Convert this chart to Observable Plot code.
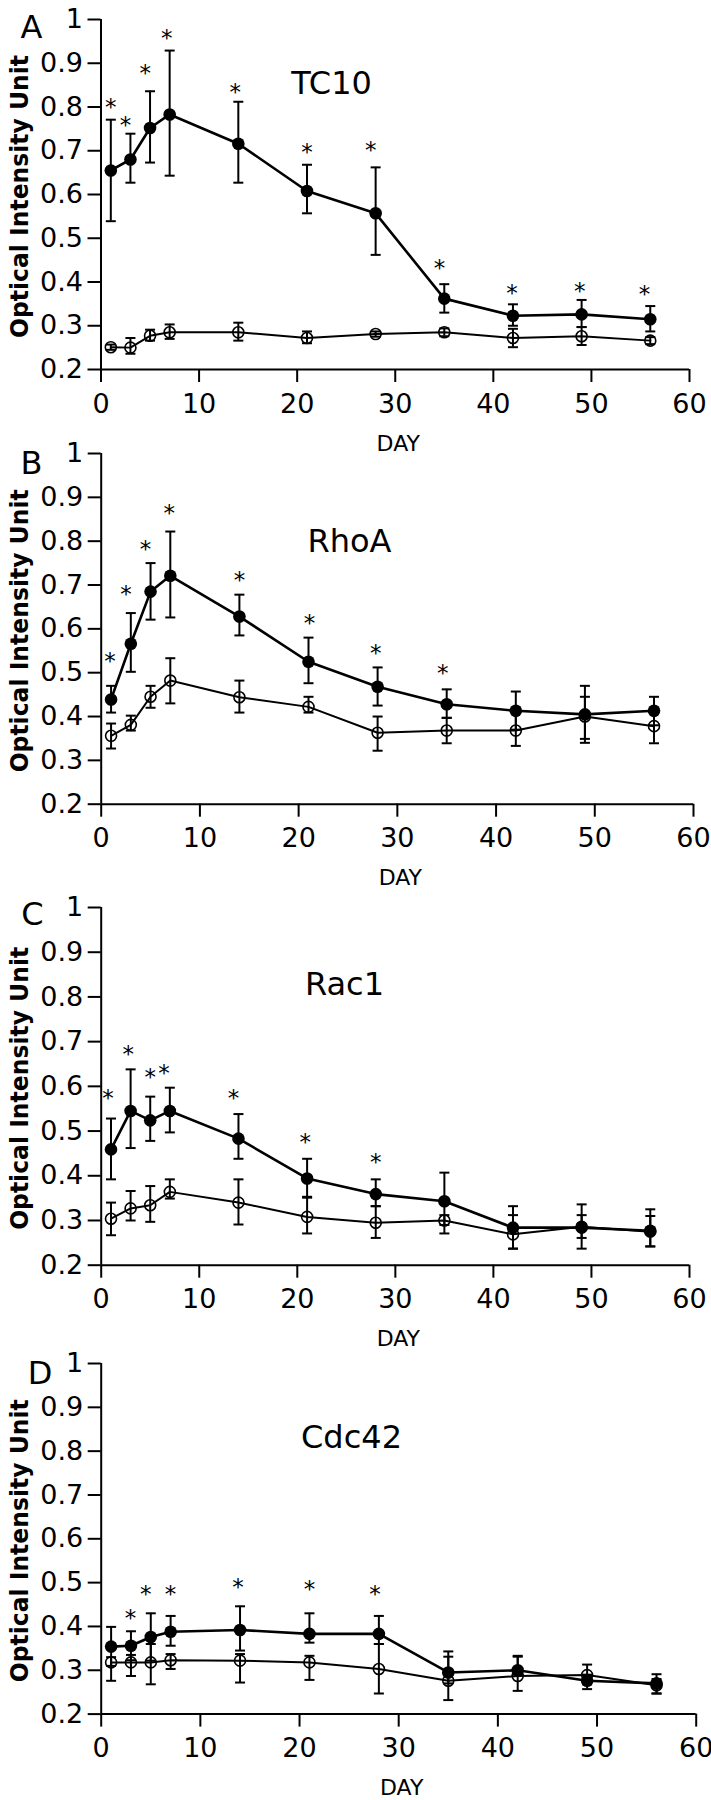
<!DOCTYPE html>
<html><head><meta charset="utf-8">
<script src="https://cdn.jsdelivr.net/npm/d3@7"></script>
<script src="https://cdn.jsdelivr.net/npm/@observablehq/plot@0.6"></script>
<style>
html,body{margin:0;padding:0;background:#fff;overflow:hidden;}
#root{position:relative;width:711px;height:1800px;}
</style></head><body><div id="root"></div>
<script>
// ---- data ----
const days = [1, 3, 5, 7, 14, 21, 28, 35, 42, 49, 56];
const xTicks = [0, 10, 20, 30, 40, 50, 60];
const yTicks = [0.2, 0.3, 0.4, 0.5, 0.6, 0.7, 0.8, 0.9, 1];
const panelLetters = ["A", "B", "C", "D"];
const proteinNames = ["TC10", "RhoA", "Rac1", "Cdc42"];
const xLabel = "DAY";
const yLabel = "Optical Intensity Unit";

// TC10
const tc10Mean = [0.655, 0.680, 0.752, 0.783, 0.716, 0.608, 0.557, 0.362, 0.323, 0.326, 0.315];
const tc10Hi   = [0.771, 0.739, 0.836, 0.929, 0.812, 0.668, 0.662, 0.395, 0.349, 0.359, 0.345];
const tc10Lo   = [0.539, 0.627, 0.673, 0.643, 0.627, 0.557, 0.462, 0.330, 0.300, 0.297, 0.287];
const tc10Ctrl   = [0.251, 0.250, 0.277, 0.285, 0.285, 0.272, 0.281, 0.285, 0.272, 0.276, 0.266];
const tc10CtrlHi = [0.257, 0.272, 0.291, 0.303, 0.307, 0.287, 0.287, 0.294, 0.293, 0.297, 0.274];
const tc10CtrlLo = [0.245, 0.236, 0.266, 0.270, 0.266, 0.260, 0.275, 0.276, 0.251, 0.256, 0.258];
const tc10StarDay = [1.0, 2.5, 4.5, 6.7, 13.7, 21.0, 27.5, 34.5, 41.9, 48.8, 55.4];
const tc10StarVal = [0.811, 0.769, 0.888, 0.968, 0.845, 0.707, 0.712, 0.442, 0.385, 0.390, 0.383];

// RhoA
const rhoaMean = [0.439, 0.566, 0.685, 0.721, 0.628, 0.525, 0.468, 0.428, 0.413, 0.405, 0.413];
const rhoaHi   = [0.470, 0.636, 0.750, 0.822, 0.678, 0.580, 0.512, 0.462, 0.457, 0.470, 0.445];
const rhoaLo   = [0.409, 0.502, 0.621, 0.626, 0.585, 0.476, 0.425, 0.397, 0.370, 0.340, 0.380];
const rhoaCtrl   = [0.356, 0.381, 0.445, 0.482, 0.444, 0.422, 0.363, 0.368, 0.368, 0.400, 0.378];
const rhoaCtrlHi = [0.384, 0.402, 0.470, 0.533, 0.482, 0.445, 0.400, 0.397, 0.413, 0.445, 0.413];
const rhoaCtrlLo = [0.327, 0.368, 0.420, 0.430, 0.409, 0.409, 0.322, 0.339, 0.333, 0.349, 0.339];
const rhoaStarDay = [0.9, 2.5, 4.5, 6.9, 14.0, 21.1, 27.8, 34.6];
const rhoaStarVal = [0.537, 0.689, 0.792, 0.874, 0.721, 0.624, 0.556, 0.510];

// Rac1
const rac1Mean = [0.459, 0.545, 0.524, 0.545, 0.483, 0.394, 0.359, 0.343, 0.284, 0.284, 0.277];
const rac1Hi   = [0.528, 0.638, 0.577, 0.597, 0.538, 0.438, 0.392, 0.407, 0.332, 0.336, 0.325];
const rac1Lo   = [0.392, 0.462, 0.478, 0.497, 0.438, 0.353, 0.332, 0.290, 0.237, 0.237, 0.242];
const rac1Ctrl   = [0.304, 0.327, 0.334, 0.364, 0.340, 0.308, 0.295, 0.300, 0.269, 0.286, 0.275];
const rac1CtrlHi = [0.340, 0.366, 0.377, 0.392, 0.392, 0.351, 0.332, 0.312, 0.312, 0.312, 0.310];
const rac1CtrlLo = [0.267, 0.300, 0.297, 0.349, 0.291, 0.271, 0.261, 0.271, 0.237, 0.261, 0.242];
const rac1StarDay = [0.7, 2.75, 5.0, 6.4, 13.5, 20.8, 28.0];
const rac1StarVal = [0.583, 0.682, 0.630, 0.640, 0.583, 0.486, 0.441];

// Cdc42
const cdc42Mean = [0.354, 0.356, 0.376, 0.388, 0.392, 0.383, 0.383, 0.295, 0.300, 0.276, 0.270];
const cdc42Hi   = [0.399, 0.389, 0.430, 0.424, 0.446, 0.430, 0.424, 0.343, 0.333, 0.290, 0.291];
const cdc42Lo   = [0.310, 0.323, 0.322, 0.356, 0.345, 0.363, 0.360, 0.270, 0.290, 0.257, 0.247];
const cdc42Ctrl   = [0.318, 0.318, 0.318, 0.323, 0.322, 0.318, 0.303, 0.276, 0.287, 0.289, 0.266];
const cdc42CtrlHi = [0.330, 0.335, 0.360, 0.337, 0.337, 0.333, 0.360, 0.331, 0.331, 0.313, 0.280];
const cdc42CtrlLo = [0.276, 0.287, 0.268, 0.303, 0.272, 0.278, 0.247, 0.232, 0.253, 0.268, 0.247];
const cdc42StarDay = [2.95, 4.5, 7.0, 13.8, 21.0, 27.6];
const cdc42StarVal = [0.430, 0.485, 0.485, 0.500, 0.495, 0.485];

// ---- layout (pixels) ----
const layout = [
  {yTop: 19,     yBot: 369,    x0: 100.5, x60: 689,   letter: [31, 27],     title: [331, 83]},
  {yTop: 453.3,  yBot: 804,    x0: 100.7, x60: 693,   letter: [31, 464],    title: [349, 541.7]},
  {yTop: 907.3,  yBot: 1265,   x0: 100.7, x60: 689,   letter: [32, 915],    title: [344, 984.3]},
  {yTop: 1362.7, yBot: 1713.3, x0: 100.7, x60: 695.7, letter: [39.5, 1373], title: [351, 1436.7]}
];

const series = [
  [tc10Mean, tc10Lo, tc10Hi, tc10Ctrl, tc10CtrlLo, tc10CtrlHi, tc10StarDay, tc10StarVal],
  [rhoaMean, rhoaLo, rhoaHi, rhoaCtrl, rhoaCtrlLo, rhoaCtrlHi, rhoaStarDay, rhoaStarVal],
  [rac1Mean, rac1Lo, rac1Hi, rac1Ctrl, rac1CtrlLo, rac1CtrlHi, rac1StarDay, rac1StarVal],
  [cdc42Mean, cdc42Lo, cdc42Hi, cdc42Ctrl, cdc42CtrlLo, cdc42CtrlHi, cdc42StarDay, cdc42StarVal]
];

const capSymbol = {
  draw(ctx, size) {
    const w = Math.sqrt(size / Math.PI);
    ctx.moveTo(-w, 0);
    ctx.lineTo(w, 0);
  }
};

const FONT = "'DejaVu Sans', Verdana, sans-serif";
const root = document.getElementById("root");

function rows(mean, lo, hi) {
  return days.map((d, i) => ({day: d, mean: mean[i], lo: lo[i], hi: hi[i]}));
}

function errMarks(data) {
  return [
    Plot.ruleX(data, {x: "day", y1: "lo", y2: "hi", stroke: "black", strokeWidth: 2}),
    Plot.dot(data, {x: "day", y: "hi", symbol: capSymbol, r: 5, stroke: "black", fill: "none", strokeWidth: 2}),
    Plot.dot(data, {x: "day", y: "lo", symbol: capSymbol, r: 5, stroke: "black", fill: "none", strokeWidth: 2})
  ];
}

layout.forEach((p, k) => {
  const [mean, lo, hi, ctrl, ctrlLo, ctrlHi, starDay, starVal] = series[k];
  const T = rows(mean, lo, hi);
  const C = rows(ctrl, ctrlLo, ctrlHi);
  const S = starDay.map((d, i) => ({day: d, v: starVal[i]}));
  const top = Math.max(0, p.yTop - 45);
  const marginTop = p.yTop - top;
  const height = Math.round(marginTop + (p.yBot - p.yTop) + 86);
  const mb = height - marginTop - (p.yBot - p.yTop);

  const svg = Plot.plot({
    width: 711,
    height,
    marginTop,
    marginBottom: mb,
    marginLeft: p.x0,
    marginRight: 711 - p.x60,
    style: {background: "transparent", overflow: "visible", fontFamily: FONT, color: "black"},
    x: {domain: [0, 60]},
    y: {domain: [0.2, 1]},
    marks: [
      Plot.axisY({ticks: yTicks, tickSize: 13, tickPadding: 5, fontSize: 27, strokeWidth: 2,
        tickFormat: d => d === 1 ? "1" : d.toFixed(1), label: null}),
      Plot.axisX({ticks: xTicks, tickSize: 13, tickPadding: 11, fontSize: 27, strokeWidth: 2,
        tickFormat: d => String(d), label: null}),
      Plot.ruleX([0], {y1: 0.2, y2: 1, stroke: "black", strokeWidth: 2}),
      Plot.ruleY([0.2], {x1: 0, x2: 60, stroke: "black", strokeWidth: 2}),
      // control (open circles)
      Plot.line(C, {x: "day", y: "mean", stroke: "black", strokeWidth: 2}),
      ...errMarks(C),
      Plot.dot(C, {x: "day", y: "mean", r: 5.5, stroke: "black", fill: "none", strokeWidth: 1.6}),
      // treated (filled circles)
      Plot.line(T, {x: "day", y: "mean", stroke: "black", strokeWidth: 2.6}),
      ...errMarks(T),
      Plot.dot(T, {x: "day", y: "mean", r: 6.3, fill: "black", stroke: "none"}),
      // significance asterisks
      Plot.text(S, {x: "day", y: "v", text: () => "*", fontSize: 23, dy: 5, fill: "black"}),
      // panel letter and protein name
      Plot.text([panelLetters[k]], {frameAnchor: "top-left", dx: p.letter[0] - p.x0, dy: p.letter[1] - p.yTop,
        textAnchor: "middle", lineAnchor: "middle", fontSize: 32, fill: "black"}),
      Plot.text([proteinNames[k]], {frameAnchor: "top-left", dx: p.title[0] - p.x0, dy: p.title[1] - p.yTop,
        textAnchor: "middle", lineAnchor: "middle", fontSize: 32, fill: "black"}),
      // axis titles
      Plot.text([yLabel], {frameAnchor: "left", rotate: -90, lineAnchor: "bottom", textAnchor: "middle",
        dx: 27.5 - p.x0, dy: 2, fontSize: 25, fontWeight: "bold", fill: "black"}),
      Plot.text([xLabel], {frameAnchor: "bottom", dx: 3, dy: 74, lineAnchor: "middle",
        textAnchor: "middle", fontSize: 22, fill: "black"})
    ]
  });
  // condensed, heavy y-axis title spanning the same length as in the original
  svg.querySelectorAll("text").forEach(t => {
    if (t.textContent === yLabel) {
      t.setAttribute("textLength", 283);
      t.setAttribute("lengthAdjust", "spacingAndGlyphs");
    }
  });
  svg.style.position = "absolute";
  svg.style.top = top + "px";
  svg.style.left = "0px";
  root.appendChild(svg);
});
</script>
</body></html>
